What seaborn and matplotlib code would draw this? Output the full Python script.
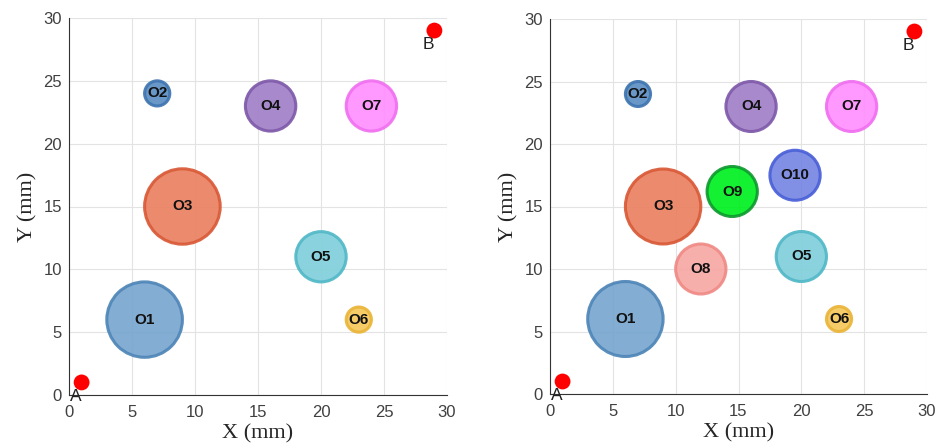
import matplotlib
matplotlib.use("Agg")
import matplotlib.pyplot as plt
from matplotlib.patches import Circle
import seaborn as sns
import pandas as pd

# Obstacles
names = ["O1", "O2", "O3", "O4", "O5", "O6", "O7", "O8", "O9", "O10"]
cx = [6, 7, 9, 16, 20, 23, 24, 12, 14.5, 19.5]
cy = [6, 24, 15, 23, 11, 6, 23, 10, 16.2, 17.5]
radius = [3, 1, 3, 2, 2, 1, 2, 2, 2, 2]
fills = ["#78a6cf", "#5b8ec4", "#ea8060", "#a07fc8", "#80cfda", "#f5c85a",
         "#ff90ff", "#f7a8a4", "#00f020", "#7686e2"]
edges = ["#4f86b8", "#3f75b0", "#d95a38", "#7f5aaa", "#52b8c8", "#eab53a",
         "#f070f0", "#f08a86", "#0f9a30", "#4a60d8"]

# Start / goal points
pt_names = ["A", "B"]
pt_x = [1, 29]
pt_y = [1, 29]

ticks = [0, 5, 10, 15, 20, 25, 30]

sns.set_theme(style="whitegrid")
plt.rcParams["font.family"] = ["Liberation Sans", "DejaVu Sans"]

fig = plt.figure(figsize=(9.4, 4.46), dpi=100)
ax1 = fig.add_axes([69/940, 51/446, 378/940, 377/446])
ax2 = fig.add_axes([550/940, 52/446, 377/940, 375/446])

pts = pd.DataFrame({"name": pt_names, "x": pt_x, "y": pt_y})
serif = ["Liberation Serif", "DejaVu Serif"]

for ax, n in [(ax1, 7), (ax2, 10)]:
    ax.set_xlim(0, 30)
    ax.set_ylim(0, 30)
    ax.set_xticks(ticks)
    ax.set_yticks(ticks)
    ax.grid(True, color="#e3e3e3", linewidth=0.8)
    ax.set_axisbelow(True)
    for i in range(n):
        c = Circle((cx[i], cy[i]), radius[i], facecolor=fills[i], edgecolor=edges[i],
                   linewidth=2.2, alpha=0.92, zorder=3)
        ax.add_patch(c)
        ax.text(cx[i], cy[i], names[i], ha="center", va="center", fontsize=11,
                fontweight="bold", color="#111111", zorder=4)
    sns.scatterplot(data=pts, x="x", y="y", ax=ax, color="#ff0000", s=130,
                    edgecolor="none", zorder=5, legend=False, clip_on=False)
    for nm, x, y in zip(pt_names, pt_x, pt_y):
        ax.text(x - 0.45, y - 1.1, nm, ha="center", va="center", fontsize=12.5,
                color="#222222", zorder=6)
    for s in ["top", "right"]:
        ax.spines[s].set_visible(False)
    for s in ["left", "bottom"]:
        ax.spines[s].set_visible(True)
        ax.spines[s].set_color("#333333")
        ax.spines[s].set_linewidth(0.8)
    ax.tick_params(axis="both", labelsize=12, colors="#333333", direction="in",
                   length=3, labelcolor="#404040")
    ax.tick_params(axis="x", pad=7)
    ax.tick_params(axis="y", pad=5)
    ax.set_xlabel("X (mm)", fontsize=16, family=serif, labelpad=3)
    ax.set_ylabel("Y (mm)", fontsize=16, family=serif, labelpad=4)

fig.savefig("out.png", dpi=100)
